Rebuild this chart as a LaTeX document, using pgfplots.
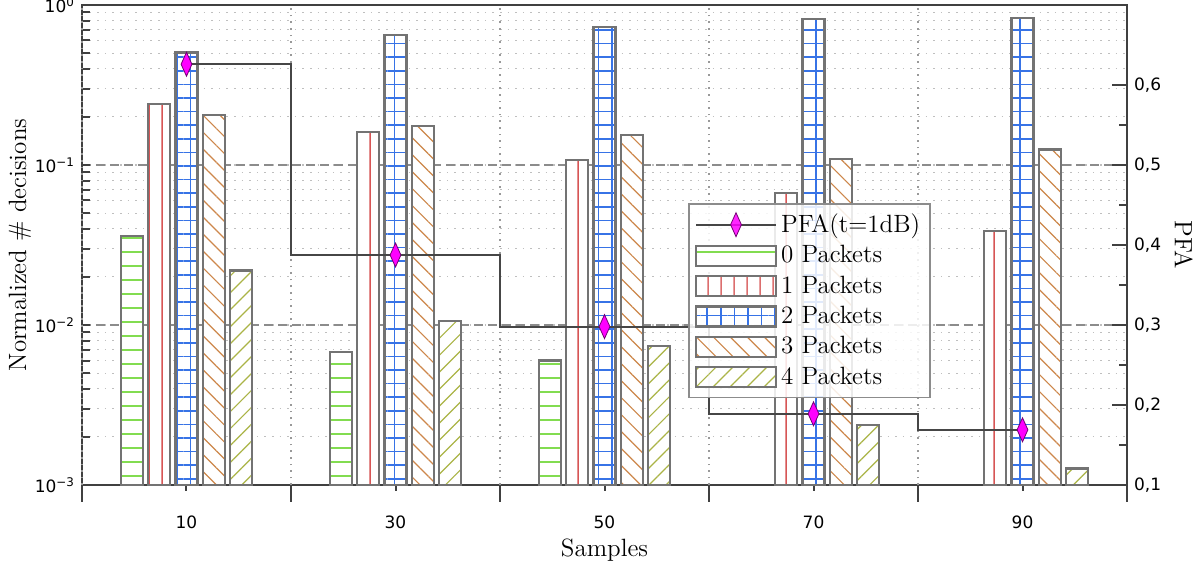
\documentclass[border=0pt]{standalone}
\usepackage{fontspec}
\setsansfont{DejaVu Sans}
\usepackage{pgfplots}
\pgfplotsset{compat=1.18}
\usetikzlibrary{patterns,patterns.meta}

\definecolor{cgreen}{RGB}{130,220,80}
\definecolor{cred}{RGB}{215,85,85}
\definecolor{cblue}{RGB}{55,115,230}
\definecolor{cbrown}{RGB}{205,135,75}
\definecolor{colive}{RGB}{170,180,70}
\definecolor{pfaline}{RGB}{70,70,70}
\definecolor{cmag}{RGB}{255,0,255}

% vertical lines, one per 6.5pt, drawn across the whole tile
\pgfdeclarepatternformonly{vlinesred}{\pgfqpoint{0pt}{0pt}}{\pgfqpoint{6.5pt}{6.5pt}}{\pgfqpoint{6.5pt}{6.5pt}}{%
  \pgfsetlinewidth{0.8pt}
  \pgfpathmoveto{\pgfqpoint{3.25pt}{-0.5pt}}
  \pgfpathlineto{\pgfqpoint{3.25pt}{7pt}}
  \pgfusepath{stroke}}

\tikzset{
  barbase/.style={fill=white, draw=black!55, line width=1.1pt},
  p0/.style={barbase, postaction={pattern={Lines[angle=0,distance=7pt,line width=1.1pt]}, pattern color=cgreen}},
  p1/.style={barbase, postaction={pattern=vlinesred, pattern color=cred}},
  p2/.style={barbase, postaction={pattern={Hatch[angle=0,distance=6.8pt,line width=0.8pt]}, pattern color=cblue}},
  p3/.style={barbase, postaction={pattern={Lines[angle=-45,distance=6pt,line width=0.6pt]}, pattern color=cbrown}},
  p4/.style={barbase, postaction={pattern={Lines[angle=45,distance=6pt,line width=0.6pt]}, pattern color=colive}},
  ticklab/.style={font=\fontsize{8.5}{10}\selectfont\sffamily},
  labfont/.style={font=\fontsize{12.5}{15}\selectfont},
}
\pgfplotsset{
  pfalegend/.style={legend image code/.code={\draw[mark repeat=2,mark phase=2,##1] plot coordinates {(0pt,0pt) (20pt,0pt) (40pt,0pt)};}},
  boxlegend/.style={legend image code/.code={\draw[#1] (0pt,-5pt) rectangle (40pt,5pt);}},
}

\begin{document}
\begin{tikzpicture}
\useasboundingbox (-41pt,-44.5pt) rectangle (559pt,242.5pt);
\begin{axis}[
  width=522.5pt, height=240pt, scale only axis,
  xmin=0, xmax=100,
  ymode=log, ymin=1e-3, ymax=1.0, log origin y=infty,
  axis line style={black!75, line width=1.2pt},
  /pgf/number format/assume math mode=true,
  xtick={10,30,50,70,90}, xtick pos=left,
  xtick align=outside,
  extra x ticks={0,20,40,60,80,100},
  extra x tick labels={},
  extra x tick style={grid=major, major tick length=8.5pt,
    major grid style={dash pattern=on 0.8pt off 2.5pt, black!40, line width=0.6pt}},
  xticklabel style={ticklab, yshift=-9pt},
  ytick={1e-3,1e-2,1e-1,1},
  yticklabels={10\textsuperscript{−3},10\textsuperscript{−2},10\textsuperscript{−1},10\textsuperscript{0}},
  ytick pos=left, ytick align=inside,
  yticklabel style={ticklab},
  major tick length=3pt, minor tick length=4pt,
  ytick style={black!75, line width=1pt},
  xtick style={black!75, line width=1pt},
  ymajorgrids, yminorgrids,
  major grid style={dash pattern=on 4.5pt off 2.5pt, black!45, line width=0.8pt},
  minor grid style={dash pattern=on 0.8pt off 3pt, black!25, line width=0.6pt},
  xlabel={Samples}, ylabel={Normalized \# decisions},
  label style={labfont},
  xlabel style={at={(axis description cs:0.5,0)}, anchor=north, yshift=-23.5pt},
  ylabel shift=-5pt,
]
\addplot[ybar, bar width=2.1, bar shift=-5.2, p0] coordinates {(10,0.036) (30,0.0068) (50,0.0060)};
\addplot[ybar, bar width=2.1, bar shift=-2.6, p1] coordinates {(10,0.241) (30,0.161) (50,0.107) (70,0.0665) (90,0.0387)};
\addplot[ybar, bar width=2.1, bar shift=0, p2] coordinates {(10,0.505) (30,0.65) (50,0.73) (70,0.82) (90,0.83)};
\addplot[ybar, bar width=2.1, bar shift=2.6, p3] coordinates {(10,0.206) (30,0.176) (50,0.154) (70,0.109) (90,0.125)};
\addplot[ybar, bar width=2.1, bar shift=5.2, p4] coordinates {(10,0.0219) (30,0.0106) (50,0.0074) (70,0.00237) (90,0.00127)};
\end{axis}

\begin{axis}[
  width=522.5pt, height=240pt, scale only axis,
  xmin=0, xmax=100,
  axis x line=none, axis y line*=right,
  axis line style={black!75, line width=1.2pt},
  ymin=0.1, ymax=0.7,
  ytick={0.1,0.2,0.3,0.4,0.5,0.6},
  minor y tick num=1,
  tick align=inside,
  major tick length=7.5pt, minor tick length=4pt,
  ytick style={black!75, line width=1pt},
  yticklabel style={ticklab, /pgf/number format/.cd, fixed, precision=1, use comma, assume math mode=true},
  ylabel={PFA}, ylabel style={labfont, rotate=180},
  legend style={at={(0.58,0.5875)}, anchor=north west, draw=black!45, line width=0.8pt,
    fill=white, fill opacity=0.85, text opacity=1, draw opacity=1,
    font=\fontsize{12.5}{15}\selectfont, row sep=1pt, inner sep=3pt},
  legend cell align=left,
]
\addplot[pfaline, line width=0.9pt, const plot mark mid,
  mark=diamond*, mark size=6pt,
  mark options={xscale=0.6, fill=cmag, draw=cmag!45!black, line width=0.4pt},
  pfalegend]
  coordinates {(10,0.626) (30,0.3875) (50,0.298) (70,0.189) (90,0.169)};
\addlegendentry{PFA(t=1dB)}
\addlegendimage{boxlegend=p0}\addlegendentry{0 Packets}
\addlegendimage{boxlegend=p1}\addlegendentry{1 Packets}
\addlegendimage{boxlegend=p2}\addlegendentry{2 Packets}
\addlegendimage{boxlegend=p3}\addlegendentry{3 Packets}
\addlegendimage{boxlegend=p4}\addlegendentry{4 Packets}
\end{axis}
\end{tikzpicture}
\end{document}
